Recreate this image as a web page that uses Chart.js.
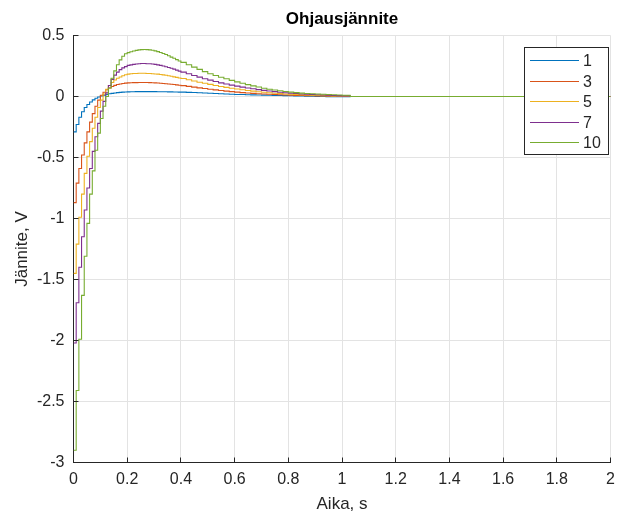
<!DOCTYPE html>
<html>
<head>
<meta charset="utf-8">
<script src="https://cdn.jsdelivr.net/npm/chart.js@4/dist/chart.umd.min.js"></script>
<style>
  html, body { margin: 0; padding: 0; background: #ffffff; }
  #wrap { width: 622px; height: 515px; }
</style>
</head>
<body>
<div id="wrap"><canvas id="c" width="622" height="515"></canvas></div>
<script>
// Sample instants (s): 10 ms steps up to 0.4 s, 20 ms steps during the slow decay
const timeS = [
  0.00, 0.01, 0.02, 0.03, 0.04, 0.05, 0.06, 0.07, 0.08, 0.09, 0.10,
  0.11, 0.12, 0.13, 0.14, 0.15, 0.16, 0.17, 0.18, 0.19, 0.20,
  0.21, 0.22, 0.23, 0.24, 0.25, 0.26, 0.27, 0.28, 0.29, 0.30,
  0.31, 0.32, 0.33, 0.34, 0.35, 0.36, 0.37, 0.38, 0.39, 0.40,
  0.42, 0.44, 0.46, 0.48, 0.50, 0.52, 0.54, 0.56, 0.58, 0.60,
  0.62, 0.64, 0.66, 0.68, 0.70, 0.72, 0.74, 0.76, 0.78, 0.80,
  0.82, 0.84, 0.86, 0.88, 0.90, 0.92, 0.94, 0.96, 0.98, 1.00,
  1.03, 2.00
];

// Control voltage (V) for each gain
const u1 = [
  -0.29, -0.23, -0.17, -0.125, -0.09, -0.065, -0.045, -0.028, -0.014, -0.004, 0.004,
  0.011, 0.017, 0.022, 0.026, 0.029, 0.032, 0.034, 0.036, 0.037, 0.038,
  0.039, 0.039, 0.04, 0.04, 0.04, 0.04, 0.04, 0.04, 0.04, 0.04,
  0.039, 0.039, 0.039, 0.039, 0.038, 0.038, 0.037, 0.037, 0.036, 0.036,
  0.034, 0.033, 0.031, 0.029, 0.027, 0.025, 0.023, 0.021, 0.019, 0.017,
  0.016, 0.014, 0.013, 0.012, 0.011, 0.01, 0.009, 0.008, 0.007, 0.006,
  0.005, 0.004, 0.003, 0.002, 0.001, 0, -0.002, -0.002, -0.002, -0.001,
  0, 0
];
const u3 = [
  -0.87, -0.71, -0.59, -0.48, -0.38, -0.29, -0.21, -0.14, -0.08, -0.03, 0.01,
  0.035, 0.055, 0.07, 0.082, 0.091, 0.098, 0.103, 0.107, 0.11, 0.112,
  0.113, 0.114, 0.114, 0.115, 0.115, 0.115, 0.115, 0.114, 0.113, 0.112,
  0.111, 0.109, 0.107, 0.105, 0.103, 0.1, 0.098, 0.095, 0.092, 0.089,
  0.083, 0.077, 0.071, 0.065, 0.059, 0.054, 0.049, 0.044, 0.04, 0.036,
  0.032, 0.029, 0.026, 0.023, 0.02, 0.018, 0.016, 0.014, 0.012, 0.011,
  0.009, 0.008, 0.007, 0.006, 0.005, 0.004, 0.003, 0.003, 0.002, 0.002,
  0, 0
];
const u5 = [
  -1.45, -1.21, -0.99, -0.80, -0.63, -0.49, -0.37, -0.26, -0.17, -0.09, -0.03,
  0.02, 0.06, 0.09, 0.115, 0.135, 0.15, 0.16, 0.17, 0.178, 0.183,
  0.186, 0.188, 0.189, 0.19, 0.19, 0.19, 0.189, 0.188, 0.187, 0.185,
  0.183, 0.18, 0.177, 0.174, 0.17, 0.166, 0.161, 0.157, 0.152, 0.147,
  0.137, 0.127, 0.117, 0.108, 0.099, 0.09, 0.082, 0.075, 0.068, 0.061,
  0.055, 0.049, 0.044, 0.039, 0.035, 0.031, 0.027, 0.024, 0.021, 0.018,
  0.016, 0.014, 0.012, 0.01, 0.008, 0.007, 0.006, 0.005, 0.004, 0.003,
  0, 0
];
const u7 = [
  -2.02, -1.69, -1.40, -1.15, -0.93, -0.75, -0.59, -0.45, -0.33, -0.22, -0.12,
  -0.04, 0.03, 0.09, 0.14, 0.175, 0.20, 0.22, 0.235, 0.245, 0.255,
  0.259, 0.263, 0.266, 0.268, 0.27, 0.27, 0.269, 0.268, 0.266, 0.263,
  0.259, 0.255, 0.25, 0.244, 0.238, 0.231, 0.224, 0.216, 0.208, 0.2,
  0.186, 0.172, 0.159, 0.146, 0.134, 0.123, 0.112, 0.102, 0.093, 0.085,
  0.077, 0.07, 0.063, 0.056, 0.05, 0.045, 0.04, 0.035, 0.031, 0.027,
  0.024, 0.021, 0.018, 0.016, 0.014, 0.012, 0.01, 0.008, 0.007, 0.005,
  0, 0
];
const u10 = [
  -2.90, -2.41, -1.99, -1.63, -1.31, -1.04, -0.80, -0.61, -0.44, -0.30, -0.18,
  -0.08, 0.0, 0.07, 0.15, 0.21, 0.26, 0.30, 0.33, 0.35, 0.36,
  0.367, 0.373, 0.378, 0.382, 0.384, 0.385, 0.384, 0.382, 0.379, 0.374,
  0.368, 0.361, 0.353, 0.344, 0.334, 0.323, 0.313, 0.302, 0.291, 0.28,
  0.26, 0.241, 0.222, 0.204, 0.187, 0.172, 0.158, 0.145, 0.132, 0.12,
  0.108, 0.097, 0.087, 0.078, 0.068, 0.06, 0.053, 0.047, 0.041, 0.036,
  0.032, 0.028, 0.025, 0.022, 0.02, 0.018, 0.016, 0.014, 0.012, 0.01,
  0, 0
];

const seriesLabels = ['1', '3', '5', '7', '10'];
const seriesValues = [u1, u3, u5, u7, u10];
const seriesColors = ['#0072BD', '#D95319', '#EDB120', '#7E2F8E', '#77AC30'];

const xTicks = [0, 0.2, 0.4, 0.6, 0.8, 1, 1.2, 1.4, 1.6, 1.8, 2];
const yTicks = [-3, -2.5, -2, -1.5, -1, -0.5, 0, 0.5];

const FONT = '"Liberation Sans", Arial, Helvetica, sans-serif';
const AXIS_COLOR = '#262626';
const GRID_COLOR = '#e3e3e3';

const datasets = seriesValues.map((vals, i) => ({
  label: seriesLabels[i],
  data: timeS.map((t, k) => ({ x: t, y: vals[k] })),
  borderColor: seriesColors[i],
  backgroundColor: seriesColors[i],
  borderWidth: 1.1,
  pointRadius: 0,
  stepped: 'before',
  fill: false,
  order: seriesValues.length - i
}));

// Title, inward tick marks and boxed legend inside the plot area
const decorations = {
  id: 'decorations',
  afterDraw(chart) {
    const { ctx, chartArea: a, scales } = chart;
    ctx.save();

    // inward ticks
    ctx.strokeStyle = AXIS_COLOR;
    ctx.lineWidth = 1;
    ctx.beginPath();
    xTicks.forEach(v => {
      const px = Math.floor(scales.x.getPixelForValue(v)) + 0.5;
      ctx.moveTo(px, a.bottom);
      ctx.lineTo(px, a.bottom - 5);
    });
    yTicks.forEach(v => {
      const py = Math.floor(scales.y.getPixelForValue(v)) + 0.5;
      ctx.moveTo(a.left, py);
      ctx.lineTo(a.left + 5, py);
    });
    ctx.stroke();

    // title
    ctx.fillStyle = '#000000';
    ctx.font = 'bold 17px ' + FONT;
    ctx.textAlign = 'center';
    ctx.textBaseline = 'middle';
    ctx.fillText('Ohjausjännite', (a.left + a.right) / 2, 19);

    // legend
    const bx = 524, by = 47, bw = 84, bh = 107, rowH = 20.6;
    ctx.fillStyle = '#ffffff';
    ctx.fillRect(bx, by, bw, bh);
    ctx.strokeStyle = AXIS_COLOR;
    ctx.lineWidth = 1;
    ctx.strokeRect(bx + 0.5, by + 0.5, bw, bh);
    ctx.font = '16px ' + FONT;
    ctx.textAlign = 'left';
    ctx.textBaseline = 'middle';
    chart.data.datasets.forEach((ds, i) => {
      const y = Math.round(by + 13 + i * rowH) + 0.5;
      ctx.strokeStyle = ds.borderColor;
      ctx.lineWidth = 1;
      ctx.beginPath();
      ctx.moveTo(bx + 6, y);
      ctx.lineTo(bx + 55, y);
      ctx.stroke();
      ctx.fillStyle = AXIS_COLOR;
      ctx.fillText(ds.label, bx + 59, y + 1);
    });
    ctx.restore();
  }
};

new Chart(document.getElementById('c'), {
  type: 'line',
  data: { datasets },
  options: {
    responsive: false,
    animation: false,
    devicePixelRatio: 1,
    layout: { padding: { top: 35.5, right: 2.5, left: 0, bottom: 0 } },
    plugins: {
      legend: { display: false },
      title: { display: false },
      tooltip: { enabled: false }
    },
    scales: {
      x: {
        type: 'linear',
        min: 0,
        max: 2,
        afterBuildTicks: s => { s.ticks = xTicks.map(v => ({ value: v })); },
        afterFit: s => { s.height = 52.5; },
        ticks: {
          color: AXIS_COLOR,
          font: { family: FONT, size: 16 },
          padding: 7,
          maxRotation: 0,
          callback: v => String(v)
        },
        grid: { color: GRID_COLOR, drawTicks: false, lineWidth: 1 },
        border: { display: true, color: AXIS_COLOR, width: 1 },
        title: {
          display: true,
          text: 'Aika, s',
          color: AXIS_COLOR,
          font: { family: FONT, size: 17 },
          padding: { top: 0, bottom: 0 }
        }
      },
      y: {
        type: 'linear',
        min: -3,
        max: 0.5,
        afterBuildTicks: s => { s.ticks = yTicks.map(v => ({ value: v })); },
        afterFit: s => { s.width = 73.5; },
        ticks: {
          color: AXIS_COLOR,
          font: { family: FONT, size: 16 },
          padding: 9,
          callback: v => String(v)
        },
        grid: { color: GRID_COLOR, drawTicks: false, lineWidth: 1 },
        border: { display: true, color: AXIS_COLOR, width: 1 },
        title: {
          display: true,
          text: 'Jännite, V',
          color: AXIS_COLOR,
          font: { family: FONT, size: 17 },
          padding: { top: 12, bottom: 0 }
        }
      }
    }
  },
  plugins: [decorations]
});
</script>
</body>
</html>
